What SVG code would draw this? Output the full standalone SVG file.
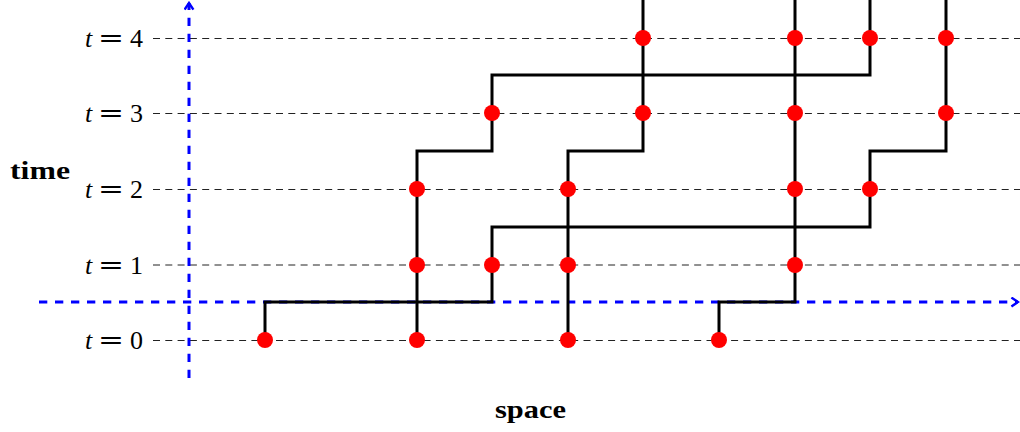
<svg xmlns="http://www.w3.org/2000/svg" width="1020" height="432" viewBox="0 0 1020 432">
<style>
.grid{stroke:#222;stroke-width:1;stroke-dasharray:7,5.3;fill:none}
.axis{stroke:#0000ff;stroke-width:3;stroke-dasharray:8.3,7.7;fill:none}
.path{stroke:#000;stroke-width:3;fill:none;stroke-linejoin:miter}
.dot{fill:#ff0000}
.lbl{font-family:"Liberation Serif","DejaVu Serif",serif;font-size:26px;fill:#000}
.it{font-style:italic}
.eq{font-family:"DejaVu Serif","Liberation Serif",serif;font-size:26px;fill:#000}
.bold{font-family:"Liberation Serif","DejaVu Serif",serif;font-size:25px;font-weight:bold;fill:#000}
</style>
<defs>
<marker id="arr" viewBox="0 0 10 10" refX="8" refY="5" markerWidth="11" markerHeight="11" markerUnits="userSpaceOnUse" orient="auto">
<path d="M2,1 L8,5 L2,9" fill="none" stroke="#0000ff" stroke-width="2.2"/>
</marker>
</defs>
<g id="gridlines">
<line class="grid" x1="153" y1="38.5" x2="1020" y2="38.5"/>
<line class="grid" x1="153" y1="113.5" x2="1020" y2="113.5"/>
<line class="grid" x1="153" y1="189.5" x2="1020" y2="189.5"/>
<line class="grid" x1="153" y1="265" x2="1020" y2="265"/>
<line class="grid" x1="153" y1="340.5" x2="1020" y2="340.5"/>
</g>
<g id="labels">
<g id="lbl4"><text class="lbl it" x="85" y="47">t</text><text class="eq" x="98" y="47" textLength="26" lengthAdjust="spacingAndGlyphs">=</text><text class="lbl" x="130" y="47">4</text></g>
<g id="lbl3"><text class="lbl it" x="85" y="122">t</text><text class="eq" x="98" y="122" textLength="26" lengthAdjust="spacingAndGlyphs">=</text><text class="lbl" x="130" y="122">3</text></g>
<g id="lbl2"><text class="lbl it" x="85" y="198">t</text><text class="eq" x="98" y="198" textLength="26" lengthAdjust="spacingAndGlyphs">=</text><text class="lbl" x="130" y="198">2</text></g>
<g id="lbl1"><text class="lbl it" x="85" y="274">t</text><text class="eq" x="98" y="274" textLength="26" lengthAdjust="spacingAndGlyphs">=</text><text class="lbl" x="130" y="274">1</text></g>
<g id="lbl0"><text class="lbl it" x="85" y="349">t</text><text class="eq" x="98" y="349" textLength="26" lengthAdjust="spacingAndGlyphs">=</text><text class="lbl" x="130" y="349">0</text></g>
<text class="bold" x="10" y="179" textLength="60" lengthAdjust="spacingAndGlyphs">time</text>
<text class="bold" x="495" y="418" textLength="71" lengthAdjust="spacingAndGlyphs">space</text>
</g>
<g id="axes">
<line class="axis" x1="189" y1="378" x2="189" y2="3" marker-end="url(#arr)"/>
<line class="axis" x1="39" y1="302" x2="1018" y2="302" marker-end="url(#arr)"/>
</g>
<g id="connectors">
<path class="path" d="M265,340 V302 H492 V227 H870 V151 H946 V0"/>
<path class="path" d="M417,340 V151 H492 V75 H870 V0"/>
<path class="path" d="M568,340 V151 H643 V0"/>
<path class="path" d="M719,340 V302 H795 V0"/>
</g>
<g id="dots">
<circle class="dot" cx="265" cy="340" r="8"/>
<circle class="dot" cx="417" cy="340" r="8"/>
<circle class="dot" cx="568" cy="340" r="8"/>
<circle class="dot" cx="719" cy="340" r="8"/>
<circle class="dot" cx="417" cy="265" r="8"/>
<circle class="dot" cx="492" cy="265" r="8"/>
<circle class="dot" cx="568" cy="265" r="8"/>
<circle class="dot" cx="795" cy="265" r="8"/>
<circle class="dot" cx="417" cy="189" r="8"/>
<circle class="dot" cx="568" cy="189" r="8"/>
<circle class="dot" cx="795" cy="189" r="8"/>
<circle class="dot" cx="870" cy="189" r="8"/>
<circle class="dot" cx="492" cy="113" r="8"/>
<circle class="dot" cx="643" cy="113" r="8"/>
<circle class="dot" cx="795" cy="113" r="8"/>
<circle class="dot" cx="946" cy="113" r="8"/>
<circle class="dot" cx="643" cy="38" r="8"/>
<circle class="dot" cx="795" cy="38" r="8"/>
<circle class="dot" cx="870" cy="38" r="8"/>
<circle class="dot" cx="946" cy="38" r="8"/>
</g>
</svg>
